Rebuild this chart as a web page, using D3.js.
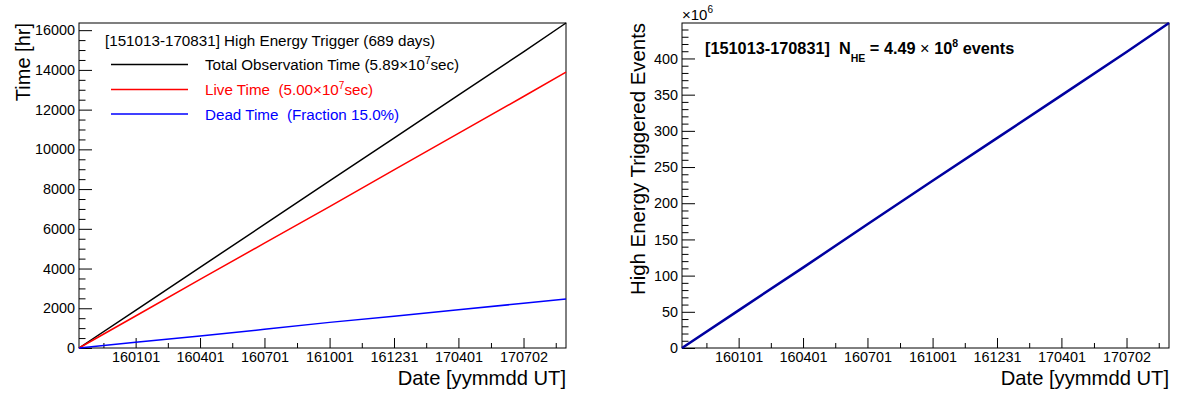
<!DOCTYPE html>
<html>
<head>
<meta charset="utf-8">
<script src="https://cdn.jsdelivr.net/npm/d3@7"></script>
<style>
body { margin: 0; background: #fff; }
text { font-family: "Liberation Sans", Arial, Helvetica, sans-serif; white-space: pre; }
</style>
</head>
<body>
<svg id="chart" width="1177" height="394"></svg>
<script>
// DATA
const dates    = ['151013', '160101', '160401', '160701', '161001', '161231', '170401', '170702', '170831'];
const totalHr  = [0, 1900, 4060, 6220, 8410, 10570, 12730, 14910, 16361];
const liveHr   = [0, 1610, 3450, 5280, 7120, 8970, 10800, 12660, 13889];
const deadHr   = [0, 290, 610, 940, 1290, 1600, 1930, 2250, 2472];
const heEvents = [0, 52, 111, 171, 231, 290, 349, 409, 449]; // x10^6

const xTickLabels = ['160101', '160401', '160701', '161001', '161231', '170401', '170702'];
const leftYTicks  = [0, 2000, 4000, 6000, 8000, 10000, 12000, 14000, 16000];
const rightYTicks = [0, 50, 100, 150, 200, 250, 300, 350, 400];

const parseDate = d3.utcParse('%y%m%d');
const svg = d3.select('#chart');

// PANEL FUNCTION
function panel(box, yMax, yMajor, yMinorStep) {
    const g = svg.append('g');

    const x = d3.scaleUtc()
        .domain([parseDate(dates[0]), parseDate(dates[dates.length - 1])])
        .range([box.x0, box.x1]);
    const y = d3.scaleLinear()
        .domain([0, yMax])
        .range([box.y1, box.y0]);

    // x ticks: majors at labels, minors half way
    const majors = xTickLabels.map(parseDate);
    const half = (majors[1] - majors[0]) / 2;
    let minors = [];
    minors.push(new Date(+majors[0] - half));
    for (let i = 0; i < majors.length - 1; i++) minors.push(new Date((+majors[i] + +majors[i + 1]) / 2));
    minors.push(new Date(+majors[majors.length - 1] + half));
    minors = minors.filter(d => d > x.domain()[0] && d < x.domain()[1]);

    g.append('g')
        .attr('transform', `translate(0,${box.y1})`)
        .call(d3.axisBottom(x).tickValues(minors).tickSize(-5).tickFormat(''))
        .call(a => a.select('.domain').remove());
    g.append('g')
        .attr('transform', `translate(0,${box.y1})`)
        .call(d3.axisBottom(x).tickValues(majors).tickSize(-10).tickPadding(4)
            .tickFormat(d3.utcFormat('%y%m%d')))
        .call(a => a.select('.domain').remove())
        .selectAll('text')
        .attr('font-size', 14.4)
        .attr('fill', '#000');

    // y ticks
    const yMinors = d3.range(0, yMax + 0.001, yMinorStep).filter(v => !yMajor.includes(v));
    g.append('g')
        .attr('transform', `translate(${box.x0},0)`)
        .call(d3.axisLeft(y).tickValues(yMinors).tickSize(-6.5).tickFormat(''))
        .call(a => a.select('.domain').remove());
    g.append('g')
        .attr('transform', `translate(${box.x0},0)`)
        .call(d3.axisLeft(y).tickValues(yMajor).tickSize(-13).tickPadding(4).tickFormat(d3.format('d')))
        .call(a => a.select('.domain').remove())
        .selectAll('text')
        .attr('font-size', 14.4)
        .attr('fill', '#000');

    g.selectAll('.tick line').attr('stroke', '#000');

    // frame
    g.append('rect')
        .attr('x', box.x0).attr('y', box.y0)
        .attr('width', box.x1 - box.x0).attr('height', box.y1 - box.y0)
        .attr('fill', 'none').attr('stroke', '#000').attr('stroke-width', 1);

    // x title
    g.append('text')
        .attr('x', box.x1).attr('y', 385)
        .attr('text-anchor', 'end')
        .attr('font-size', 20.2)
        .text('Date [yymmdd UT]');

    return {g, x, y};
}

function drawLine(p, values, color, width) {
    const line = d3.line()
        .x((d, i) => p.x(parseDate(dates[i])))
        .y(d => p.y(d));
    p.g.append('path')
        .datum(values)
        .attr('fill', 'none')
        .attr('stroke', color)
        .attr('stroke-width', width)
        .attr('d', line);
}

// LEFT PANEL
const left = panel({x0: 79, x1: 566, y0: 23, y1: 348}, d3.max(totalHr), leftYTicks, 500);
drawLine(left, totalHr, '#000', 1.5);
drawLine(left, liveHr, '#ff0000', 1.5);
drawLine(left, deadHr, '#0000ff', 1.5);

left.g.append('text')
    .attr('transform', 'translate(30,23) rotate(-90)')
    .attr('text-anchor', 'end')
    .attr('font-size', 20)
    .text('Time [hr]');

// legend
const legend = left.g.append('g');
legend.append('text')
    .attr('x', 105).attr('y', 46)
    .attr('font-size', 15.2)
    .text('[151013-170831] High Energy Trigger (689 days)');

const entries = [
    {color: '#000', y: 64.5, parts: ['Total Observation Time (5.89\u00d710', '7', 'sec)']},
    {color: '#ff0000', y: 89.5, parts: ['Live Time  (5.00\u00d710', '7', 'sec)']},
    {color: '#0000ff', y: 114, parts: ['Dead Time  (Fraction 15.0%)']}
];
entries.forEach(e => {
    legend.append('line')
        .attr('x1', 111).attr('x2', 188)
        .attr('y1', e.y).attr('y2', e.y)
        .attr('stroke', e.color).attr('stroke-width', 1.5);
    const t = legend.append('text')
        .attr('x', 205).attr('y', e.y + 5.5)
        .attr('font-size', 15.2)
        .attr('fill', e.color);
    t.append('tspan').text(e.parts[0]);
    if (e.parts.length > 1) {
        t.append('tspan').attr('font-size', 10).attr('dy', -6.5).text(e.parts[1]);
        t.append('tspan').attr('dy', 6.5).text(e.parts[2]);
    }
});

// RIGHT PANEL
const right = panel({x0: 682, x1: 1169, y0: 23, y1: 348}, d3.max(heEvents), rightYTicks, 10);
drawLine(right, heEvents, '#0000a0', 2.5);

right.g.append('text')
    .attr('transform', 'translate(645,23) rotate(-90)')
    .attr('text-anchor', 'end')
    .attr('font-size', 20.4)
    .text('High Energy Triggered Events');

const mult = right.g.append('text')
    .attr('x', 682).attr('y', 20)
    .attr('font-size', 15);
mult.append('tspan').text('\u00d710');
mult.append('tspan').attr('font-size', 10).attr('dy', -7).text('6');

const note = right.g.append('text')
    .attr('x', 705).attr('y', 53.5)
    .attr('font-size', 16.3)
    .attr('font-weight', 'bold');
note.append('tspan').text('[151013-170831]  N');
note.append('tspan').attr('font-size', 10.5).attr('dy', 8).text('HE');
note.append('tspan').attr('dy', -8).text(' = 4.49 ');
note.append('tspan').attr('font-weight', 'normal').text('\u00d7');
note.append('tspan').text(' 10');
note.append('tspan').attr('font-size', 10.5).attr('dy', -7).text('8');
note.append('tspan').attr('dy', 7).text(' events');
</script>
</body>
</html>
